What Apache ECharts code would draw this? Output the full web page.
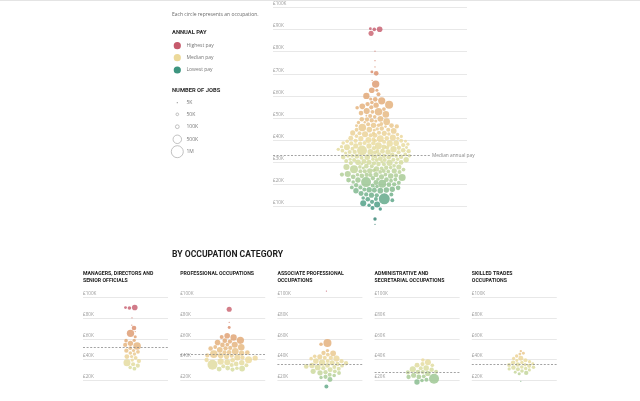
<!DOCTYPE html>
<html>
<head>
<meta charset="utf-8">
<script src="https://cdn.jsdelivr.net/npm/echarts@6.0.0/dist/echarts.min.js"></script>
<style>
  html, body { margin: 0; padding: 0; background: #fff; }
  #chart { width: 640px; height: 401px; }
</style>
</head>
<body>
<div id="chart"></div>
<script>
// median annual pay (£K) and number of jobs (K), one entry per occupation
var managersPay  = [89.7, 90.1, 90.0, 80.2, 73.1, 70.2, 66.9, 65.3, 62.1, 58.4, 56.6, 55.4, 55.1, 53.0, 50.9, 49.3, 48.5, 47.6, 46.1, 44.6, 42.8, 42.1, 41.2, 39.8, 38.7, 37.1, 35.9, 34.3, 33.1, 31.4];
var managersJobs = [90, 220, 55, 6, 5, 150, 4, 380, 65, 70, 90, 200, 120, 400, 90, 70, 130, 100, 90, 80, 70, 160, 100, 80, 130, 340, 120, 120, 90, 100];

var professionalPay  = [88.5, 75.9, 70.8, 62.6, 61.0, 59.8, 58.2, 57.4, 56.0, 55.1, 54.0, 53.2, 52.4, 51.2, 50.4, 49.6, 48.8, 47.8, 47.0, 46.2, 45.5, 44.8, 44.1, 43.4, 42.7, 42.0, 41.3, 40.3, 39.7, 39.0, 38.3, 37.6, 36.9, 36.2, 35.6, 34.9, 34.2, 33.4, 32.6, 31.8, 31.0, 46.6, 43.9, 41.0, 38.7, 36.5, 49.2, 52.8];
var professionalJobs = [180, 8, 60, 220, 110, 280, 150, 360, 130, 220, 100, 260, 150, 300, 120, 230, 130, 320, 110, 200, 400, 140, 220, 120, 180, 260, 130, 340, 150, 240, 120, 280, 150, 200, 680, 160, 110, 230, 120, 170, 90, 150, 120, 190, 130, 110, 140, 100];

var associatePay  = [106.0, 55.9, 54.8, 47.0, 45.9, 44.8, 43.8, 42.9, 42.0, 41.1, 40.3, 39.4, 38.6, 37.8, 37.0, 36.2, 35.5, 34.8, 34.0, 33.3, 32.5, 31.8, 31.0, 30.2, 29.4, 28.6, 27.7, 26.7, 25.6, 24.4, 23.4, 21.0, 14.0, 38.2, 35.9, 33.6, 30.6, 28.1, 40.8, 36.6];
var associateJobs = [4, 450, 90, 80, 130, 100, 230, 110, 180, 90, 260, 130, 220, 110, 180, 280, 130, 200, 150, 110, 230, 130, 170, 100, 180, 130, 200, 110, 90, 120, 80, 170, 110, 120, 100, 150, 110, 100, 90, 130];

var adminPay  = [38.0, 36.5, 34.8, 33.3, 32.0, 30.8, 29.7, 28.6, 27.6, 26.6, 25.6, 24.6, 23.6, 22.0, 21.0, 20.0, 19.0, 27.0, 30.2, 24.9, 33.9, 28.2];
var adminJobs = [90, 250, 120, 170, 110, 220, 260, 150, 110, 200, 180, 130, 150, 700, 110, 90, 200, 120, 140, 100, 90, 110];

var tradesPay  = [48.0, 46.0, 44.3, 42.8, 41.0, 40.0, 39.0, 38.1, 37.2, 36.4, 35.6, 34.8, 34.0, 33.2, 32.4, 31.6, 30.8, 30.0, 29.1, 28.2, 27.5, 26.4, 19.0, 35.2, 37.8, 33.0, 31.2, 36.0];
var tradesJobs = [40, 60, 55, 80, 170, 75, 110, 60, 130, 80, 150, 70, 120, 90, 140, 80, 110, 70, 90, 60, 130, 65, 8, 100, 75, 85, 70, 60];

var caringPay  = [20.5, 18.6, 17.2, 16.0, 22.6, 23.4, 24.8, 21.2, 19.4, 26.0, 27.6, 19.0, 13.2, 17.8, 24.0, 29.8];
var caringJobs = [450, 200, 170, 130, 180, 130, 100, 150, 120, 110, 90, 200, 120, 220, 210, 80];

var salesPay  = [14.0, 16.0, 12.8, 18.2, 19.8, 21.4, 23.8, 25.2, 15.2, 27.0, 22.2];
var salesJobs = [840, 180, 150, 110, 130, 100, 150, 90, 120, 100, 200];

var processPay  = [26.7, 50.5, 44.8, 41.2, 38.4, 36.4, 34.9, 33.6, 32.3, 31.1, 30.0, 29.0, 28.0, 27.2, 26.0, 25.0, 24.0, 23.0, 22.0, 21.0, 28.6, 31.6, 34.2, 25.6];
var processJobs = [440, 25, 50, 70, 90, 80, 130, 100, 150, 110, 160, 120, 180, 90, 190, 260, 130, 160, 110, 90, 260, 200, 80, 110];

var elementaryPay  = [23.5, 11.8, 12.0, 9.5, 9.2, 4.4, 2.0, 17.5, 16.6, 19.2, 20.2, 21.6, 22.6, 24.6, 26.2, 15.4, 14.4, 13.0, 10.8, 18.4];
var elementaryJobs = [340, 250, 250, 110, 80, 80, 5, 200, 170, 150, 130, 110, 160, 120, 100, 110, 90, 100, 80, 100];

var panelTitles  = ['MANAGERS, DIRECTORS AND\nSENIOR OFFICIALS', 'PROFESSIONAL OCCUPATIONS', 'ASSOCIATE PROFESSIONAL\nOCCUPATIONS', 'ADMINISTRATIVE AND\nSECRETARIAL OCCUPATIONS', 'SKILLED TRADES\nOCCUPATIONS'];
var panelPay     = [managersPay, professionalPay, associatePay, adminPay, tradesPay];
var panelJobs    = [managersJobs, professionalJobs, associateJobs, adminJobs, tradesJobs];
var panelMedians = [51.4, 44.8, 35.6, 27.5, 35.0];
var overallMedian = 33.0;

var payLegendLabels = ['Highest pay', 'Median pay', 'Lowest pay'];
var sizeLegendJobs = [5, 50, 100, 500, 1000];
var sizeLegendLabels = ['5K', '50K', '100K', '500K', '1M'];

var allPay = [].concat(managersPay, professionalPay, associatePay, adminPay, tradesPay, caringPay, salesPay, processPay, elementaryPay);
var allJobs = [].concat(managersJobs, professionalJobs, associateJobs, adminJobs, tradesJobs, caringJobs, salesJobs, processJobs, elementaryJobs);

var payColors = ['#226e61', '#3d957f', '#8fc08b', '#d3db9b', '#ecd99a', '#e6b97e', '#e0a36f', '#d98c68', '#d0726a', '#c65a6c'];
var FONT = '"Open Sans", "Noto Sans", sans-serif';
var HEAD = 'Roboto, "DejaVu Sans", sans-serif';

function radius(jobs) {
  return Math.max(0.65, 6 * Math.sqrt(jobs / 1000));
}

// beeswarm: greedy start, then a few hundred collide / pull-to-centre passes
function swarm(pays, jobs, pxPerK) {
  var pad = 0.75;
  var nodes = [];
  pays.forEach(function (p, i) {
    var n = { ty: p * pxPerK, y: p * pxPerK, r: radius(jobs[i]), x: 0 };
    var cands = [0];
    nodes.forEach(function (m) {
      var dy = n.y - m.y, d = n.r + m.r + pad;
      if (Math.abs(dy) < d) {
        var dx = Math.sqrt(d * d - dy * dy);
        cands.push(m.x - dx, m.x + dx);
      }
    });
    var side = i % 2 ? 1 : -1;
    cands.sort(function (a, b) {
      return (Math.abs(a) - Math.abs(b)) || (a * side < b * side ? 1 : -1);
    });
    for (var k = 0; k < cands.length; k++) {
      var x = cands[k];
      var ok = nodes.every(function (m) {
        var dx = x - m.x, dy = n.y - m.y, d = n.r + m.r + pad;
        return dx * dx + dy * dy >= d * d - 1e-6;
      });
      if (ok) { n.x = x; break; }
    }
    nodes.push(n);
  });

  for (var it = 0; it < 260; it++) {
    nodes.forEach(function (n) { n.x *= 0.985; n.y += (n.ty - n.y) * 0.2; });
    for (var pass = 0; pass < 2; pass++) {
      for (var i = 0; i < nodes.length; i++) {
        for (var j = i + 1; j < nodes.length; j++) {
          var a = nodes[i], b = nodes[j];
          var dx = b.x - a.x, dy = b.y - a.y, d = a.r + b.r + pad;
          if (Math.abs(dx) >= d || Math.abs(dy) >= d) continue;
          var dist2 = dx * dx + dy * dy;
          if (dist2 >= d * d) continue;
          var dist = Math.sqrt(dist2) || 1e-3;
          var push = (d - dist) / dist;
          var wa = b.r * b.r / (a.r * a.r + b.r * b.r), wb = 1 - wa;
          a.x -= dx * push * wa; a.y -= dy * push * wa;
          b.x += dx * push * wb; b.y += dy * push * wb;
        }
      }
    }
  }
  return nodes;
}

function points(pays, jobs, pxPerK) {
  var nodes = swarm(pays, jobs, pxPerK);
  return nodes.map(function (n, i) { return [n.x, n.y / pxPerK * 1000, jobs[i]]; });
}

function yAxisFor(gridIndex, interval) {
  return {
    type: 'value', gridIndex: gridIndex, min: 0, max: 100000, interval: interval,
    axisLine: { show: false }, axisTick: { show: false },
    axisLabel: {
      inside: true, margin: 0, showMinLabel: false, align: 'left', verticalAlign: 'bottom',
      padding: [0, 0, 1, 0], fontSize: 4.6, color: '#9a9a9a', fontFamily: FONT,
      formatter: function (v) { return '£' + v / 1000 + 'K'; }
    },
    splitLine: { showMinLine: false, lineStyle: { color: '#e2e2e2', width: 0.8 } }
  };
}

var MAIN = { left: 273, top: 7.3, width: 194, height: 221.5, centre: 102 };
var SUB = { left: 83, step: 97.2, top: 297.3, width: 85, height: 111.7, centre: 49 };

var grids = [{ left: MAIN.left, top: MAIN.top, width: MAIN.width, height: MAIN.height }];
var xAxes = [{ type: 'value', gridIndex: 0, min: -MAIN.centre, max: MAIN.width - MAIN.centre, show: false }];
var yAxes = [yAxisFor(0, 10000)];
var dashed = { type: [2, 1.6], color: '#8c8c8c', width: 0.8 };

var series = [{
  type: 'scatter', xAxisIndex: 0, yAxisIndex: 0, clip: false, silent: true,
  data: points(allPay, allJobs, MAIN.height / 100),
  symbolSize: function (v) { return 2 * radius(v[2]); },
  markLine: {
    silent: true, symbol: 'none', lineStyle: dashed,
    label: { show: true, position: 'end', distance: 2, formatter: 'Median annual pay', fontSize: 4.8, color: '#888', fontFamily: FONT },
    data: [[{ coord: [-MAIN.centre, overallMedian * 1000] }, { coord: [55, overallMedian * 1000] }]]
  }
}];

var graphics = [
  { type: 'line', shape: { x1: 0, y1: 0.5, x2: 640, y2: 0.5 }, style: { stroke: '#e4e4e4', lineWidth: 1 } }
];

panelPay.forEach(function (pays, i) {
  var left = SUB.left + i * SUB.step;
  grids.push({ left: left, top: SUB.top, width: SUB.width, height: SUB.height });
  xAxes.push({ type: 'value', gridIndex: i + 1, min: -SUB.centre, max: SUB.width - SUB.centre, show: false });
  yAxes.push(yAxisFor(i + 1, 20000));
  series.push({
    type: 'scatter', xAxisIndex: i + 1, yAxisIndex: i + 1, clip: false, silent: true,
    data: points(pays, panelJobs[i], SUB.height / 100),
    symbolSize: function (v) { return 2 * radius(v[2]); },
    markLine: {
      silent: true, symbol: 'none', lineStyle: dashed, label: { show: false },
      data: [{ yAxis: panelMedians[i] * 1000 }]
    }
  });
  graphics.push({
    type: 'text', x: left, y: 270.6,
    style: { text: panelTitles[i], fill: '#222', font: 'bold 5.2px ' + HEAD, lineHeight: 6.4, verticalAlign: 'top', align: 'left' }
  });
});

// heading and legend
graphics.push(
  { type: 'text', x: 172, y: 255, style: { text: 'BY OCCUPATION CATEGORY', fill: '#1e1e1e', font: 'bold 8.6px ' + HEAD, verticalAlign: 'middle' } },
  { type: 'text', x: 172, y: 15, style: { text: 'Each circle represents an occupation.', fill: '#6a6a6a', font: '5px ' + FONT, verticalAlign: 'middle' } },
  { type: 'text', x: 172, y: 33, style: { text: 'ANNUAL PAY', fill: '#2a2a2a', font: 'bold 5.8px ' + HEAD, verticalAlign: 'middle' } },
  { type: 'text', x: 172, y: 91, style: { text: 'NUMBER OF JOBS', fill: '#2a2a2a', font: 'bold 5.8px ' + HEAD, verticalAlign: 'middle' } }
);
var swatchColors = [payColors[9], payColors[4], payColors[1]];
payLegendLabels.forEach(function (lab, i) {
  var y = [45.7, 57.7, 70][i];
  graphics.push(
    { type: 'circle', shape: { cx: 177.3, cy: y, r: 3.6 }, style: { fill: swatchColors[i] } },
    { type: 'text', x: 186.5, y: y, style: { text: lab, fill: '#777', font: '5px ' + FONT, verticalAlign: 'middle' } }
  );
});
sizeLegendJobs.forEach(function (j, i) {
  var y = [102.7, 114.3, 126.7, 139.3, 151.7][i];
  graphics.push(
    { type: 'circle', shape: { cx: 177.3, cy: y, r: radius(j) },
      style: i === 0 ? { fill: '#999' } : { fill: 'none', stroke: '#a8a8a8', lineWidth: 0.7 } },
    { type: 'text', x: 186.5, y: y, style: { text: sizeLegendLabels[i], fill: '#777', font: '5px ' + FONT, verticalAlign: 'middle' } }
  );
});

var chart = echarts.init(document.getElementById('chart'));
chart.setOption({
  animation: false,
  backgroundColor: '#fff',
  grid: grids,
  xAxis: xAxes,
  yAxis: yAxes,
  visualMap: {
    type: 'continuous', show: false, dimension: 1, min: 0, max: 90000,
    seriesIndex: series.map(function (s, i) { return i; }),
    inRange: { color: payColors }
  },
  series: series,
  graphic: graphics
});
</script>
</body>
</html>
